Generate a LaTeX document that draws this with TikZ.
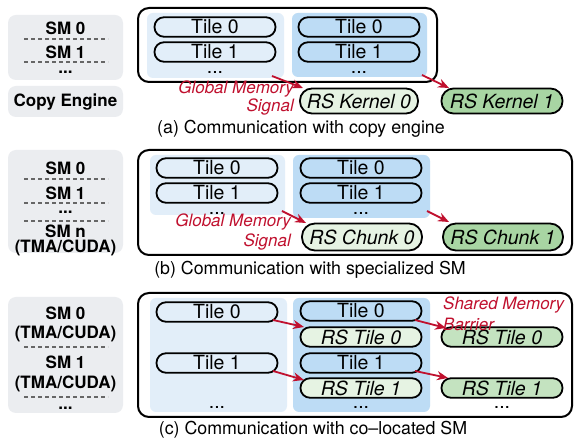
\documentclass[tikz,border=0pt]{standalone}
\usepackage{fontspec}
\setmainfont{TeX Gyre Heros}
\usetikzlibrary{arrows.meta,calc}
\definecolor{smgray}{HTML}{EBEDF0}
\definecolor{lblue}{HTML}{E2EEF9}
\definecolor{mblue}{HTML}{BDDCF5}
\definecolor{lgreen}{HTML}{E6F3E3}
\definecolor{mgreen}{HTML}{C4E3C0}
\definecolor{dgreen}{HTML}{A8D5A3}
\definecolor{sigred}{HTML}{C0102E}
\newcommand\fTile{\fontsize{19.5}{20}\selectfont}
\newcommand\fSM{\fontsize{17}{18}\selectfont\bfseries}
\newcommand\fCap{\fontsize{17.8}{18}\selectfont}
\newcommand\fSig{\fontsize{17}{18}\selectfont\itshape}
\tikzset{
  tilebox/.style={draw, line width=1.8pt, rounded corners=9.5pt, minimum width=121pt,
    minimum height=19.5pt, inner sep=0pt, font=\fTile},
  rsbox/.style={tilebox, font=\fTile\itshape},
  grayblk/.style={fill=smgray, rounded corners=8pt},
  outerbox/.style={draw, line width=2pt, rounded corners=11pt},
  bgl/.style={fill=lblue, rounded corners=6pt},
  bgm/.style={fill=mblue, rounded corners=6pt},
  smtxt/.style={font=\fSM, inner sep=0pt},
  smdots/.style={font=\fSM, inner sep=0pt, text height=2pt, text depth=0pt, anchor=base},
  smdash/.style={draw=black!60, line width=1.2pt, dash pattern=on 4pt off 3pt},
  captxt/.style={font=\fCap, inner sep=0pt},
  sigtxt/.style={font=\fSig, text=sigred, inner sep=0pt},
  dotstxt/.style={font=\fTile, inner sep=0pt, text height=2pt, text depth=0pt, anchor=base},
  arr/.style={draw=sigred, line width=1.8pt, -{Stealth[length=11pt,width=9pt]}},
}
\begin{document}
\begin{tikzpicture}[x=1pt,y=-1pt]
\useasboundingbox (0,0) rectangle (574,443);
\fill[white] (0,0) rectangle (574,443);

%% ---------------- (a) ----------------
\fill[grayblk] (8,15) rectangle (123,80);
\fill[grayblk] (8,86) rectangle (123,117);
\node[smtxt] (a-sm0) at (65.5,28) {SM 0};
\draw[smdash] (24,39) -- (108,39);
\node[smtxt] (a-sm1) at (65.5,52) {SM 1};
\draw[smdash] (24,62) -- (108,62);
\node[smdots] (a-smd) at (65.5,74) {...};
\node[smtxt] (a-ce) at (65.5,102) {Copy Engine};

\draw[outerbox] (138,8) rectangle (437,82);
\fill[bgl] (147,13) rectangle (284,78);
\fill[bgm] (292,13) rectangle (427,77);
\node[tilebox, fill=lblue] (a-t0) at (215,27) {Tile 0};
\node[tilebox, fill=lblue] (a-t1) at (215,52) {Tile 1};
\node[dotstxt] (a-d1) at (215,74) {...};
\node[tilebox, fill=mblue] (a-u0) at (359,27) {Tile 0};
\node[tilebox, fill=mblue] (a-u1) at (359,52) {Tile 1};
\node[dotstxt] (a-d2) at (359,74) {...};

\node[rsbox, fill=lgreen, minimum width=118pt, minimum height=25pt, rounded corners=12pt] (a-k0) at (359,101) {RS Kernel 0};
\node[rsbox, fill=dgreen, minimum width=121pt, minimum height=25pt, rounded corners=12pt] (a-k1) at (502,101) {RS Kernel 1};

\node[sigtxt, anchor=east] (a-g1) at (294,89) {Global Memory};
\node[sigtxt, anchor=east] (a-g2) at (294,107) {Signal};

\coordinate (a-s1) at (272,76);
\coordinate (a-e1) at (303,88);
\coordinate (a-s2) at (422,75);
\coordinate (a-e2) at (449,88);
\draw[arr] (a-s1) -- (a-e1);
\draw[arr] (a-s2) -- (a-e2);

\node[captxt] (a-cap) at (301,129) {(a) Communication with copy engine};

%% ---------------- (b) ----------------
\fill[grayblk] (8,150) rectangle (123,253);
\node[smtxt] (b-sm0) at (65.5,168) {SM 0};
\draw[smdash] (24,179) -- (108,179);
\node[smtxt] (b-sm1) at (65.5,193) {SM 1};
\draw[smdash] (24,203) -- (108,203);
\node[smdots] (b-smd) at (65.5,214) {...};
\draw[smdash] (24,221) -- (108,221);
\node[smtxt] (b-smn) at (65.5,231) {SM n};
\node[smtxt] (b-tma) at (65.5,248) {(TMA/CUDA)};

\draw[outerbox] (138,150) rectangle (572,255);
\fill[bgl] (150,155) rectangle (285,215);
\fill[bgm] (293,155) rectangle (430,218);
\node[tilebox, fill=lblue] (b-t0) at (217,168) {Tile 0};
\node[tilebox, fill=lblue] (b-t1) at (217,193) {Tile 1};
\node[dotstxt] (b-d1) at (217,215) {...};
\node[tilebox, fill=mblue] (b-u0) at (361,168) {Tile 0};
\node[tilebox, fill=mblue] (b-u1) at (361,193) {Tile 1};
\node[dotstxt] (b-d2) at (361,215) {...};

\node[rsbox, fill=lgreen, minimum width=120pt, minimum height=27pt, rounded corners=13pt] (b-c0) at (362,237) {RS Chunk 0};
\node[rsbox, fill=dgreen, minimum width=120pt, minimum height=27pt, rounded corners=13pt] (b-c1) at (503,237) {RS Chunk 1};

\node[sigtxt, anchor=east] (b-g1) at (291,222) {Global Memory};
\node[sigtxt, anchor=east] (b-g2) at (291,242) {Signal};

\coordinate (b-s1) at (282,211);
\coordinate (b-e1) at (306,223);
\coordinate (b-s2) at (427,211);
\coordinate (b-e2) at (449,222);
\draw[arr] (b-s1) -- (b-e1);
\draw[arr] (b-s2) -- (b-e2);

\node[captxt] (b-cap) at (310,270) {(b) Communication with specialized SM};

%% ---------------- (c) ----------------
\fill[grayblk] (8,297) rectangle (123,413);
\node[smtxt] (c-sm0) at (65.5,313) {SM 0};
\node[smtxt] (c-tma0) at (65.5,334) {(TMA/CUDA)};
\draw[smdash] (24,347) -- (108,347);
\node[smtxt] (c-sm1) at (65.5,362) {SM 1};
\node[smtxt] (c-tma1) at (65.5,384) {(TMA/CUDA)};
\draw[smdash] (24,397) -- (108,397);
\node[smdots] (c-smd) at (65.5,410) {...};

\draw[outerbox] (138,293) rectangle (572,417);
\fill[bgl] (150,298) rectangle (287,412);
\fill[bgm] (293,298) rectangle (430,412);
\node[tilebox, fill=lblue] (c-t0) at (217,312) {Tile 0};
\node[tilebox, fill=lblue] (c-t1) at (217,363) {Tile 1};
\node[dotstxt] (c-d1) at (217,409) {...};

\node[tilebox, fill=mblue] (c-u0) at (361,311) {Tile 0};
\node[rsbox, fill=lgreen] (c-r0) at (361,337) {RS Tile 0};
\node[tilebox, fill=mblue] (c-u1) at (361,363) {Tile 1};
\node[rsbox, fill=lgreen] (c-r1) at (361,388) {RS Tile 1};
\node[dotstxt] (c-d2) at (361,409) {...};

\node[rsbox, fill=mgreen] (c-v0) at (502,337) {RS Tile 0};
\node[rsbox, fill=mgreen] (c-v1) at (502,388) {RS Tile 1};
\node[dotstxt] (c-d3) at (502,409) {...};

\node[sigtxt, anchor=west] (c-g1) at (443,305) {Shared Memory};
\node[sigtxt, anchor=west] (c-g2) at (443,324) {Barrier};

\coordinate (c-s1) at (273,320);
\coordinate (c-e1) at (304,327);
\coordinate (c-s2) at (273,371);
\coordinate (c-e2) at (304,380);
\coordinate (c-s3) at (415,320);
\coordinate (c-e3) at (446,328);
\coordinate (c-s4) at (415,371);
\coordinate (c-e4) at (448,378);
\draw[arr] (c-s1) -- (c-e1);
\draw[arr] (c-s2) -- (c-e2);
\draw[arr] (c-s3) -- (c-e3);
\draw[arr] (c-s4) -- (c-e4);

\node[captxt] (c-cap) at (313,430) {(c) Communication with co–located SM};
\end{tikzpicture}
\end{document}
